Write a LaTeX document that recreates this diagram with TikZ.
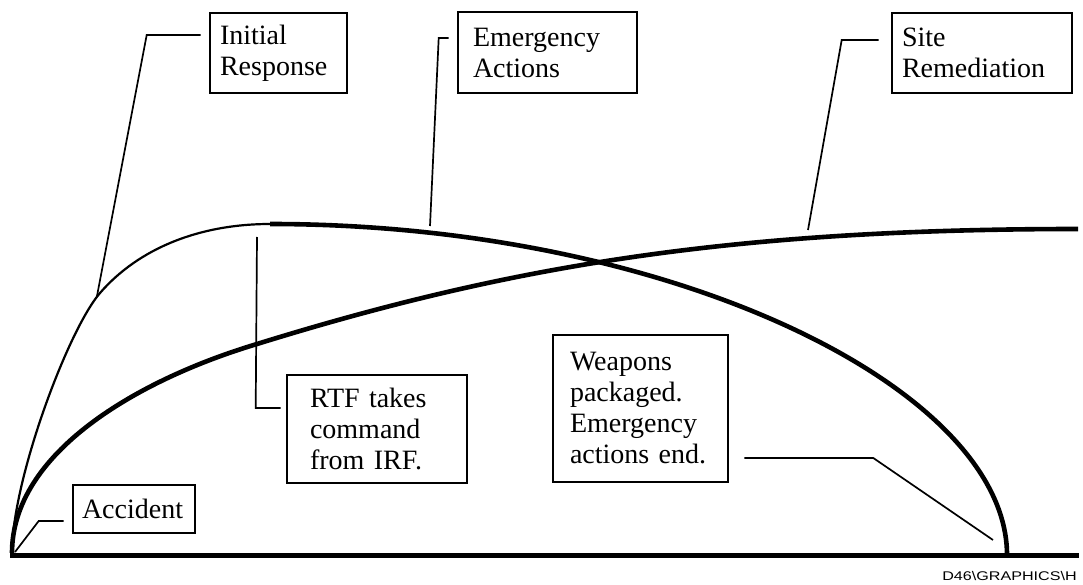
\documentclass[tikz,border=0pt]{standalone}
\usepackage{fontspec}
\setmainfont{Liberation Serif}
\newfontfamily\footfont{Liberation Sans}
\usetikzlibrary{calc}

\tikzset{
  phasebox/.style={draw, rectangle, line width=2.6pt, align=left,
    font=\fontsize{28}{31}\selectfont, anchor=center, inner ysep=4pt},
  leader/.style={line width=1.7pt, line join=miter},
  heavycurve/.style={line width=4.6pt},
  lightcurve/.style={line width=2.2pt},
  axisline/.style={line width=5pt}
}

\begin{document}
\begin{tikzpicture}[x=1pt, y=-1pt]
\useasboundingbox (0,0) rectangle (1083,585);

% time axis
\draw[axisline] (10,555) -- (1079,555);

% initial response (light) and emergency actions (heavy)
\draw[lightcurve] (12,553) .. controls (12,480) and (68,330) .. (100,293)
  .. controls (139,248) and (200,224) .. (270,224);
\draw[heavycurve] (270,224) .. controls (675,224) and (1007,390) .. (1007,555);

% site remediation
\draw[heavycurve] (12,553) .. controls (12,453) and (137,380) .. (257,344)
  .. controls (507,266.5) and (728,229) .. (1078,229);

% phase labels
\node[phasebox, minimum width=137pt, minimum height=80pt, text width=117pt, inner xsep=10pt]
  (ir) at (278.5,53) {Initial\\Response};
\node[phasebox, minimum width=179pt, minimum height=81pt, text width=149pt, inner xsep=15pt]
  (em) at (547.5,52.5) {Emergency\\Actions};
\node[phasebox, minimum width=180pt, minimum height=80pt, text width=160pt, inner xsep=10pt]
  (st) at (982,53) {Site\\Remediation};
\node[phasebox, minimum width=180pt, minimum height=108pt, text width=134pt, inner xsep=23pt]
  (rtf) at (377,429) {RTF takes\\command\\from IRF.};
\node[phasebox, minimum width=175pt, minimum height=147pt, text width=141pt, inner xsep=17pt]
  (wp) at (640.5,408.5) {Weapons\\packaged.\\Emergency\\actions end.};
\node[phasebox, minimum width=122pt, minimum height=48pt, text width=104pt, inner xsep=9pt]
  (ac) at (134,509) {Accident};

% points on the curves where the leaders end
\coordinate (irEnd) at (97,296);
\coordinate (emEnd) at (430,226);
\coordinate (stEnd) at (808,230);
\coordinate (rtfEnd) at (257,237);
\coordinate (wpEnd) at (993,540);
\coordinate (acEnd) at (15,552);

% leaders
\draw[leader] ($(ir.west)+(-8,-18)$) -- ++(-54,0) -- (irEnd);
\draw[leader] ($(em.west)+(-8,-14.5)$) -- ++(-10,0) -- (emEnd);
\draw[leader] ($(st.west)+(-12,-13)$) -- ++(-37,0) -- (stEnd);
\draw[leader] ($(rtf.west)+(-5,-21)$) -- ++(-25,0) -- (rtfEnd);
\draw[leader] ($(wp.east)+(15,49.5)$) -- ++(129,0) -- (wpEnd);
\draw[leader] ($(ac.west)+(-8,12)$) -- ++(-25,0) -- (acEnd);

% drawing reference
\node[anchor=base east, inner sep=0pt, xscale=1.28, font=\footfont\fontsize{12.6}{14}\selectfont]
  (ref) at (1077,580) {D46\textbackslash GRAPHICS\textbackslash H};
\end{tikzpicture}
\end{document}
